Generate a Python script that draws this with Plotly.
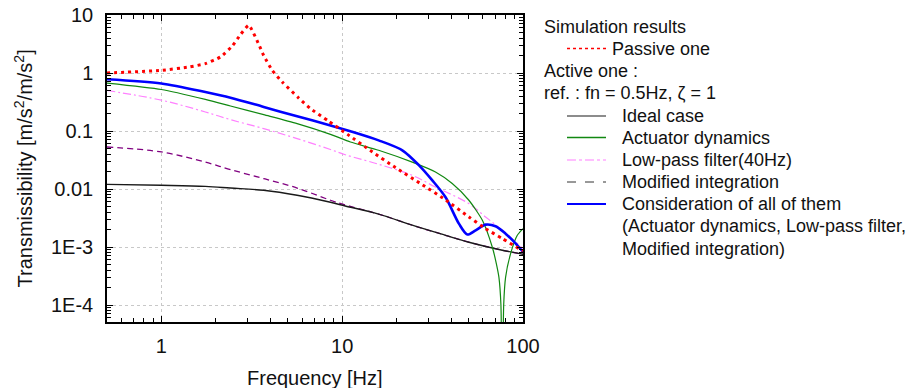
import plotly.graph_objects as go

# ---------------- data ----------------
passive_f = [0.5, 1.0, 1.42, 1.75, 2.12, 2.46, 2.74, 3.04, 3.5, 3.68, 4.1, 4.66, 5.75, 6.68, 8.43,
             10.7, 14.7, 19.7, 27.1, 36.5, 50.2, 62.1, 76.8, 94.9, 100]
passive_t = [1.0, 1.11, 1.27, 1.45, 1.89, 2.9, 4.6, 6.64, 2.85, 2.0, 1.11, 0.70, 0.37, 0.243, 0.147,
             0.0875, 0.0435, 0.0234, 0.0124, 0.0068, 0.0033, 0.00207, 0.0014, 0.00094, 0.00086]

ideal_f = [0.5, 1.0, 1.75, 2.41, 3.68, 5.63, 8.61, 10.4, 15.9, 24.4, 37.3, 50.2, 76.8, 100]
ideal_t = [0.012, 0.0116, 0.0111, 0.0104, 0.0095, 0.0078, 0.0059, 0.0051, 0.0037, 0.00238, 0.00159,
           0.00121, 0.00088, 0.00075]

act_f = [0.5, 1.0, 1.75, 2.41, 3.68, 5.63, 8.61, 11.1, 15.9, 24.4, 32.8, 40.6, 50.2, 59.6, 67.6,
         71.0, 73.6, 75.5, 76.8, 78.2, 80.1, 85.4, 93, 100]
act_t = [0.67, 0.52, 0.35, 0.27, 0.191, 0.134, 0.0877, 0.0646, 0.0465, 0.029, 0.0196, 0.0124, 0.0064,
         0.00289, 0.001, 0.00054, 0.0003, 0.0001, 0.000001, 0.0001, 0.0003, 0.00077, 0.00159, 0.00207]

lpf_f = [0.5, 1.0, 1.75, 2.41, 3.68, 5.63, 8.61, 10.4, 15.9, 24.4, 32.8, 50.2, 62.1, 76.8, 100]
lpf_t = [0.50, 0.34, 0.213, 0.157, 0.11, 0.074, 0.048, 0.039, 0.0267, 0.0172, 0.0108, 0.0056, 0.0033,
         0.00194, 0.00094]

mod_f = [0.5, 1.0, 1.75, 2.41, 3.68, 5.63, 8.61, 10.4, 15.9, 24.4, 37.3, 50.2, 76.8, 100]
mod_t = [0.053, 0.0435, 0.029, 0.0216, 0.0151, 0.0104, 0.0064, 0.0053, 0.0037, 0.00238, 0.00159,
         0.00121, 0.00088, 0.00075]

all_f = [0.5, 1.0, 1.75, 2.41, 3.68, 5.63, 8.61, 11.1, 15.9, 21.5, 26.6, 31.5, 37.3, 44.2, 49.2,
         54.7, 62.1, 70.5, 80.1, 91, 100]
all_t = [0.78, 0.66, 0.47, 0.376, 0.26, 0.179, 0.125, 0.099, 0.069, 0.0465, 0.0256, 0.0141, 0.0072,
         0.00253, 0.00164, 0.00194, 0.00243, 0.00228, 0.0017, 0.00115, 0.00082]

x_tickvals = [1, 10, 100]
x_ticktext = ["1", "10", "100"]
y_tickvals = [1e-4, 1e-3, 1e-2, 1e-1, 1, 10]
y_ticktext = ["1E-4", "1E-3", "0.01", "0.1", "1", "10"]

x_title = "Frequency [Hz]"
y_title = "Transmissibility [m/s<sup>2</sup>/m/s<sup>2</sup>]"
legend_headers = ["Simulation results", "Active one :", "ref. : fn = 0.5Hz, \u03b6 = 1"]
legend_names = ["Passive one", "Ideal case", "Actuator dynamics", "Low-pass filter(40Hz)",
                "Modified integration", "Consideration of all of them"]
legend_extra = ["(Actuator dynamics, Low-pass filter,", "Modified integration)"]

# ---------------- styles ----------------
FONT = "Liberation Sans, Arial, sans-serif"
TXT = "#111111"
C_PASSIVE = "#ff0000"
C_IDEAL = "#1a1a1a"
C_ACT = "#118811"
C_LPF = "#ff80ff"
C_MOD = "#800080"
C_ALL = "#0000ff"

W, H = 914, 388
L, R, T, B = 107, 523, 15, 322


def px(x):
    return (x - L) / (R - L)


def py(y):
    return (B - y) / (B - T)


fig = go.Figure()
fig.add_trace(go.Scatter(x=mod_f, y=mod_t, mode="lines", name=legend_names[4],
                         line=dict(color=C_MOD, width=1.3, dash="6px,4px", shape="spline")))
fig.add_trace(go.Scatter(x=ideal_f, y=ideal_t, mode="lines", name=legend_names[1],
                         line=dict(color=C_IDEAL, width=1.4, shape="spline")))
fig.add_trace(go.Scatter(x=lpf_f, y=lpf_t, mode="lines", name=legend_names[3],
                         line=dict(color=C_LPF, width=1.2, dash="8px,3px,2px,3px", shape="spline")))
fig.add_trace(go.Scatter(x=act_f, y=act_t, mode="lines", name=legend_names[2],
                         line=dict(color=C_ACT, width=1.2, shape="spline", smoothing=0.6)))
fig.add_trace(go.Scatter(x=all_f, y=all_t, mode="lines", name=legend_names[5],
                         line=dict(color=C_ALL, width=2.6, shape="spline", smoothing=0.8)))
fig.add_trace(go.Scatter(x=passive_f, y=passive_t, mode="lines", name=legend_names[0],
                         line=dict(color=C_PASSIVE, width=3, dash="3px,4px", shape="spline", smoothing=0.5)))

# ---------------- legend and axis titles drawn by hand ----------------
ann = []
shapes = []
fs = 18


def text(x, y, s, size=fs, **kw):
    d = dict(x=px(x), y=py(y), xref="paper", yref="paper", text=s, showarrow=False,
             xanchor="left", yanchor="middle", font=dict(family=FONT, size=size, color=TXT))
    d.update(kw)
    ann.append(d)


def sample(y, color, width, dash):
    shapes.append(dict(type="line", xref="paper", yref="paper", x0=px(567), x1=px(606),
                       y0=py(y), y1=py(y), line=dict(color=color, width=width, dash=dash)))


text(542, 27, legend_headers[0])
sample(48.5, C_PASSIVE, 1.6, "dot")
text(610, 48.5, legend_names[0])
text(542, 71, legend_headers[1])
text(542, 93, legend_headers[2])
rows = [116, 137.5, 160, 182, 204]
styles = [(C_IDEAL, 1.2, "solid"), (C_ACT, 1.4, "solid"), (C_LPF, 1.2, "dashdot"),
          ("#333333", 1.0, "dash"), (C_ALL, 1.8, "solid")]
for yy, nm, st in zip(rows, legend_names[1:], styles):
    sample(yy, *st)
    text(620, yy, nm)
text(620, 226, legend_extra[0])
text(620, 248.5, legend_extra[1])

text(315, 378, x_title, size=20, xanchor="center")
text(23, 168.5, y_title, size=20, xanchor="center", textangle=-90)

axis_common = dict(
    type="log", automargin=False, showline=True, linecolor="black", linewidth=1.5, mirror="allticks",
    ticks="inside", ticklen=6, tickcolor="black", tickwidth=1.2,
    showgrid=True, gridcolor="#c8c8c8", griddash="dot", gridwidth=1,
    tickfont=dict(family=FONT, size=20, color=TXT),
    zeroline=False,
    minor=dict(dtick="D1", ticks="inside", ticklen=4, tickcolor="black", tickwidth=1, showgrid=False),
)

fig.update_layout(
    width=W, height=H,
    margin=dict(l=L, r=W - R, t=T, b=H - B, autoexpand=False),
    paper_bgcolor="white", plot_bgcolor="white",
    showlegend=False,
    font=dict(family=FONT, color=TXT),
    xaxis=dict(axis_common, range=[-0.30103, 2.0], tickvals=x_tickvals, ticktext=x_ticktext,
               ticklabelstandoff=5),
    yaxis=dict(axis_common, range=[-4.293, 1.0], tickvals=y_tickvals, ticktext=y_ticktext,
               ticklabelstandoff=8),
    annotations=ann,
    shapes=shapes,
)

fig.write_html("out.html", config={"displayModeBar": False},
               post_script="document.body.style.margin='0';document.body.style.overflow='hidden';")
